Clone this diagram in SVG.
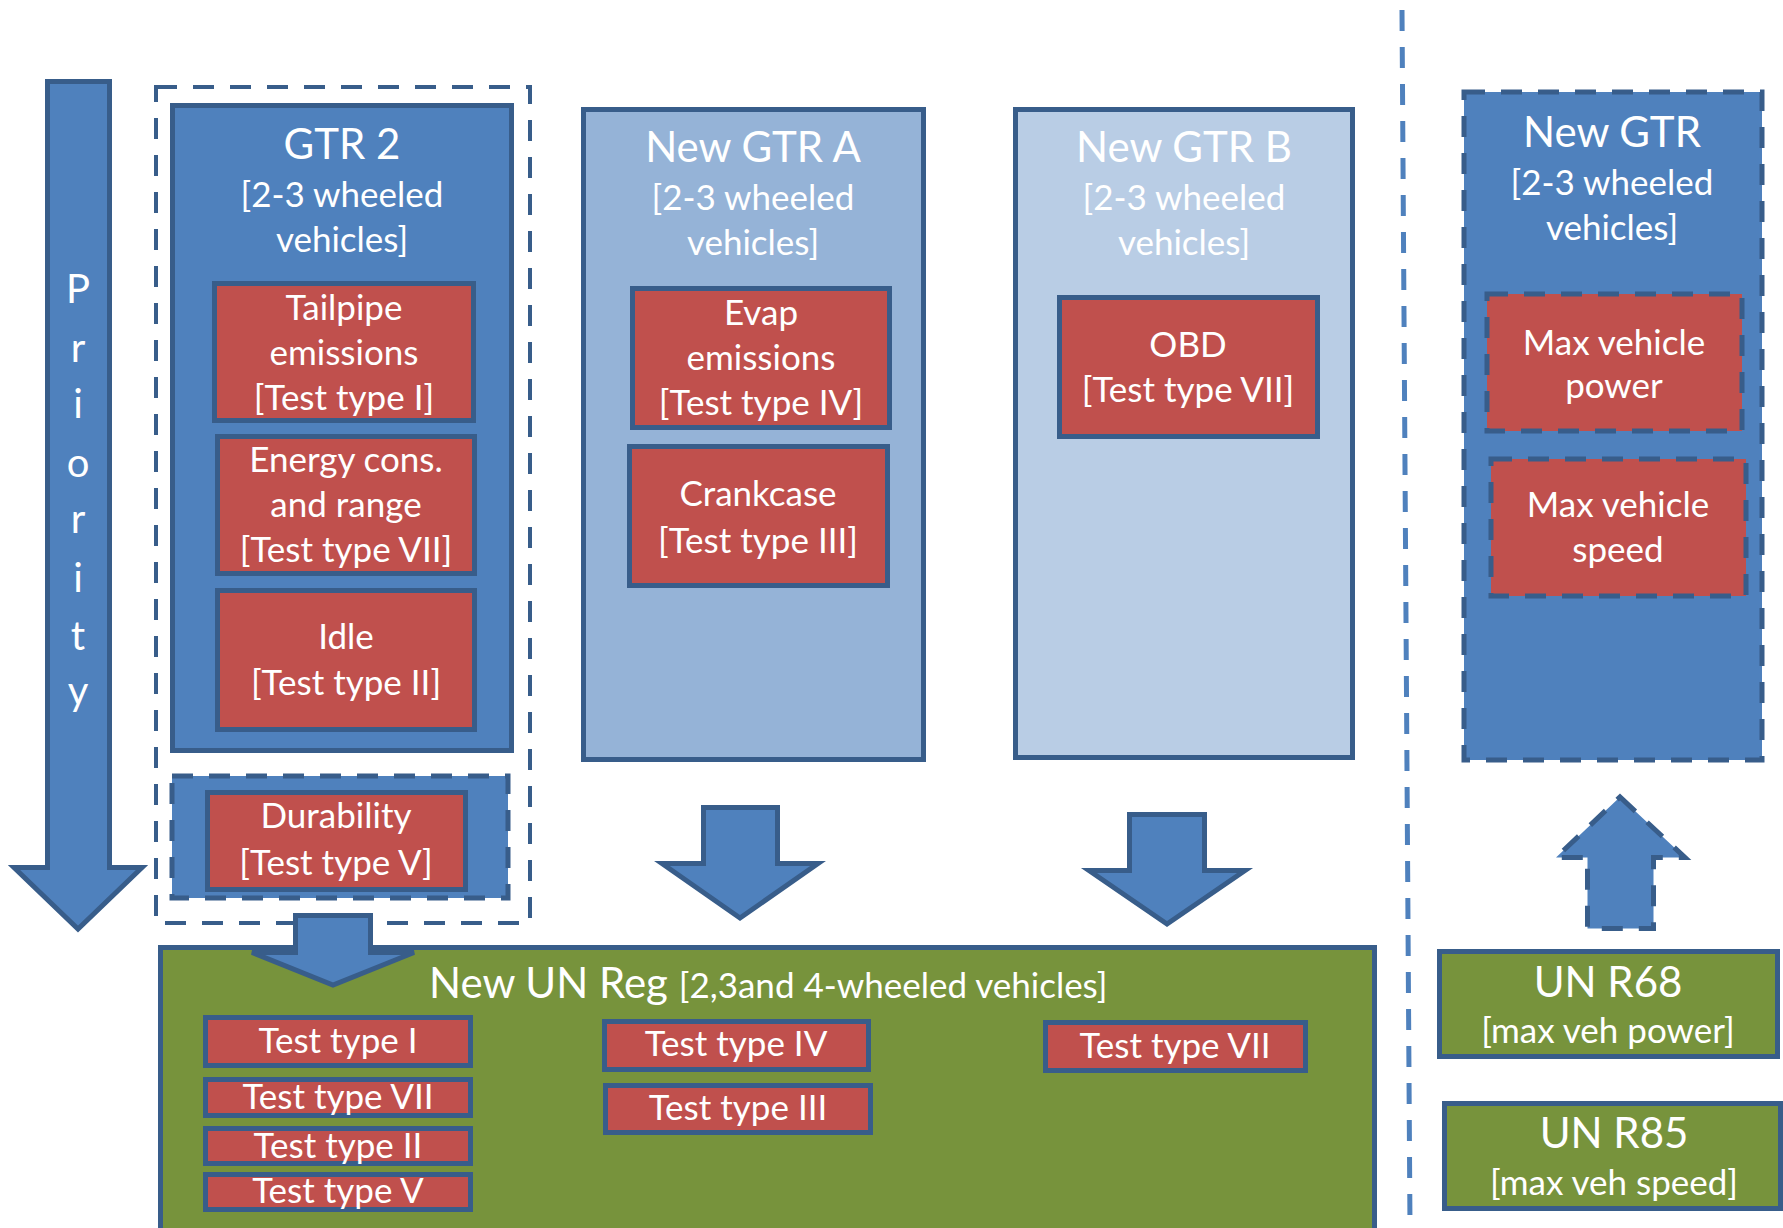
<svg xmlns="http://www.w3.org/2000/svg" width="1783" height="1228" viewBox="0 0 1783 1228">
<style>
  .blue{fill:#4F81BD;stroke:#385D8A;stroke-width:5}
  .blueA{fill:#95B3D7;stroke:#385D8A;stroke-width:5}
  .blueB{fill:#B9CDE5;stroke:#385D8A;stroke-width:5}
  .red{fill:#C0504D;stroke:#385D8A;stroke-width:5}
  .green{fill:#77933C;stroke:#385D8A;stroke-width:5}
  .dash{stroke-dasharray:21 16}
  .frame{fill:none;stroke:#385D8A;stroke-width:4;stroke-dasharray:21 16}
  text{font-family:Lato,"Open Sans","Liberation Sans",sans-serif;fill:#FFFFFF;text-anchor:middle}
  .t{font-size:42px}
  .b{font-size:35px}
  .p{font-size:40px}
</style>

<g id="separator">
  <line x1="1402" y1="10" x2="1410" y2="1228" stroke="#4F81BD" stroke-width="5" stroke-dasharray="21 16"/>
</g>

<g id="priority">
  <path class="blue" d="M47.5,81.5 H109.5 V867.5 H142 L78,929 L14,867.5 H47.5 Z"/>
  <text class="p" x="78" y="303">P</text>
  <text class="p" x="78" y="362">r</text>
  <text class="p" x="78" y="418">i</text>
  <text class="p" x="78" y="477">o</text>
  <text class="p" x="78" y="533">r</text>
  <text class="p" x="78" y="592">i</text>
  <text class="p" x="78" y="650">t</text>
  <text class="p" x="78" y="705">y</text>
</g>

<g id="gtr2-group">
  <rect class="frame" x="156" y="87" width="374" height="836"/>
</g>

<g id="gtr2">
  <rect class="blue" x="172.5" y="105.5" width="339" height="645"/>
  <text class="t" x="342" y="159">GTR 2</text>
  <text class="b" x="342" y="207">[2-3 wheeled</text>
  <text class="b" x="342" y="252">vehicles]</text>
</g>

<g id="tailpipe">
  <rect class="red" x="214.5" y="283.5" width="259" height="137"/>
  <text class="b" x="344" y="320">Tailpipe</text>
  <text class="b" x="344" y="365">emissions</text>
  <text class="b" x="344" y="410">[Test type I]</text>
</g>

<g id="energy">
  <rect class="red" x="217.5" y="436.5" width="257" height="137"/>
  <text class="b" x="346" y="472">Energy cons.</text>
  <text class="b" x="346" y="517">and range</text>
  <text class="b" x="346" y="562">[Test type VII]</text>
</g>

<g id="idle">
  <rect class="red" x="217.5" y="590.5" width="257" height="139"/>
  <text class="b" x="346" y="649">Idle</text>
  <text class="b" x="346" y="695">[Test type II]</text>
</g>

<g id="durability-frame">
  <rect class="blue dash" x="172" y="776" width="336" height="122"/>
</g>

<g id="durability">
  <rect class="red" x="207.5" y="792.5" width="258" height="97"/>
  <text class="b" x="336" y="828">Durability</text>
  <text class="b" x="336" y="875">[Test type V]</text>
</g>

<g id="gtr-a">
  <rect class="blueA" x="583.5" y="109.5" width="340" height="650"/>
  <text class="t" x="753" y="162">New GTR A</text>
  <text class="b" x="753" y="210">[2-3 wheeled</text>
  <text class="b" x="753" y="255">vehicles]</text>
</g>

<g id="evap">
  <rect class="red" x="632.5" y="288.5" width="257" height="139"/>
  <text class="b" x="761" y="325">Evap</text>
  <text class="b" x="761" y="370">emissions</text>
  <text class="b" x="761" y="415">[Test type IV]</text>
</g>

<g id="crankcase">
  <rect class="red" x="629.5" y="446.5" width="258" height="139"/>
  <text class="b" x="758" y="506">Crankcase</text>
  <text class="b" x="758" y="553">[Test type III]</text>
</g>

<g id="gtr-b">
  <rect class="blueB" x="1015.5" y="109.5" width="337" height="648"/>
  <text class="t" x="1184" y="162">New GTR B</text>
  <text class="b" x="1184" y="210">[2-3 wheeled</text>
  <text class="b" x="1184" y="255">vehicles]</text>
</g>

<g id="obd">
  <rect class="red" x="1059.5" y="297.5" width="258" height="139"/>
  <text class="b" x="1188" y="357">OBD</text>
  <text class="b" x="1188" y="402">[Test type VII]</text>
</g>

<g id="new-gtr">
  <rect class="blue dash" x="1464" y="92" width="298" height="668"/>
  <text class="t" x="1612" y="147">New GTR</text>
  <text class="b" x="1612" y="195">[2-3 wheeled</text>
  <text class="b" x="1612" y="240">vehicles]</text>
</g>

<g id="max-power">
  <rect class="red dash" x="1487" y="294" width="255" height="137"/>
  <text class="b" x="1614" y="355">Max vehicle</text>
  <text class="b" x="1614" y="398">power</text>
</g>

<g id="max-speed">
  <rect class="red dash" x="1491" y="459" width="255" height="137"/>
  <text class="b" x="1618" y="517">Max vehicle</text>
  <text class="b" x="1618" y="562">speed</text>
</g>

<g id="new-un-reg">
  <rect class="green" x="160.5" y="947.5" width="1214" height="300"/>
  <text x="429" y="998" style="text-anchor:start"><tspan class="t">New UN Reg </tspan><tspan class="b">[2,3and 4-wheeled vehicles]</tspan></text>
</g>

<g id="un-tt1">
  <rect class="red" x="205.5" y="1017.5" width="265" height="48"/>
  <text class="b" x="338" y="1053">Test type I</text>
</g>
<g id="un-tt7a">
  <rect class="red" x="205.5" y="1079.5" width="265" height="36"/>
  <text class="b" x="338" y="1109">Test type VII</text>
</g>
<g id="un-tt2">
  <rect class="red" x="205.5" y="1128.5" width="265" height="35"/>
  <text class="b" x="338" y="1158">Test type II</text>
</g>
<g id="un-tt5">
  <rect class="red" x="205.5" y="1174.5" width="265" height="35"/>
  <text class="b" x="338" y="1203">Test type V</text>
</g>
<g id="un-tt4">
  <rect class="red" x="604.5" y="1021.5" width="264" height="48"/>
  <text class="b" x="736" y="1056">Test type IV</text>
</g>
<g id="un-tt3">
  <rect class="red" x="605.5" y="1085.5" width="265" height="47"/>
  <text class="b" x="738" y="1120">Test type III</text>
</g>
<g id="un-tt7b">
  <rect class="red" x="1045.5" y="1022.5" width="260" height="48"/>
  <text class="b" x="1175" y="1058">Test type VII</text>
</g>

<g id="un-r68">
  <rect class="green" x="1439.5" y="951.5" width="338" height="105"/>
  <text class="t" x="1608" y="997">UN R68</text>
  <text class="b" x="1608" y="1043">[max veh power]</text>
</g>

<g id="un-r85">
  <rect class="green" x="1444.5" y="1103.5" width="336" height="105"/>
  <text class="t" x="1614" y="1148">UN R85</text>
  <text class="b" x="1614" y="1195">[max veh speed]</text>
</g>

<g id="connectors">
  <path class="blue" d="M295.5,915.5 H370.5 V952.5 H414 L333,985 L252,952.5 H295.5 Z"/>
  <path class="blue" d="M703.5,807.5 H777.5 V863.5 H818 L740,918 L662,863.5 H703.5 Z"/>
  <path class="blue" d="M1129.5,814.5 H1204.5 V870.5 H1245 L1167,924 L1089,870.5 H1129.5 Z"/>
  <path class="blue dash" d="M1620,797 L1685,857.5 H1653.5 V928.5 H1587.5 V857.5 H1556 Z"/>
</g>
</svg>
